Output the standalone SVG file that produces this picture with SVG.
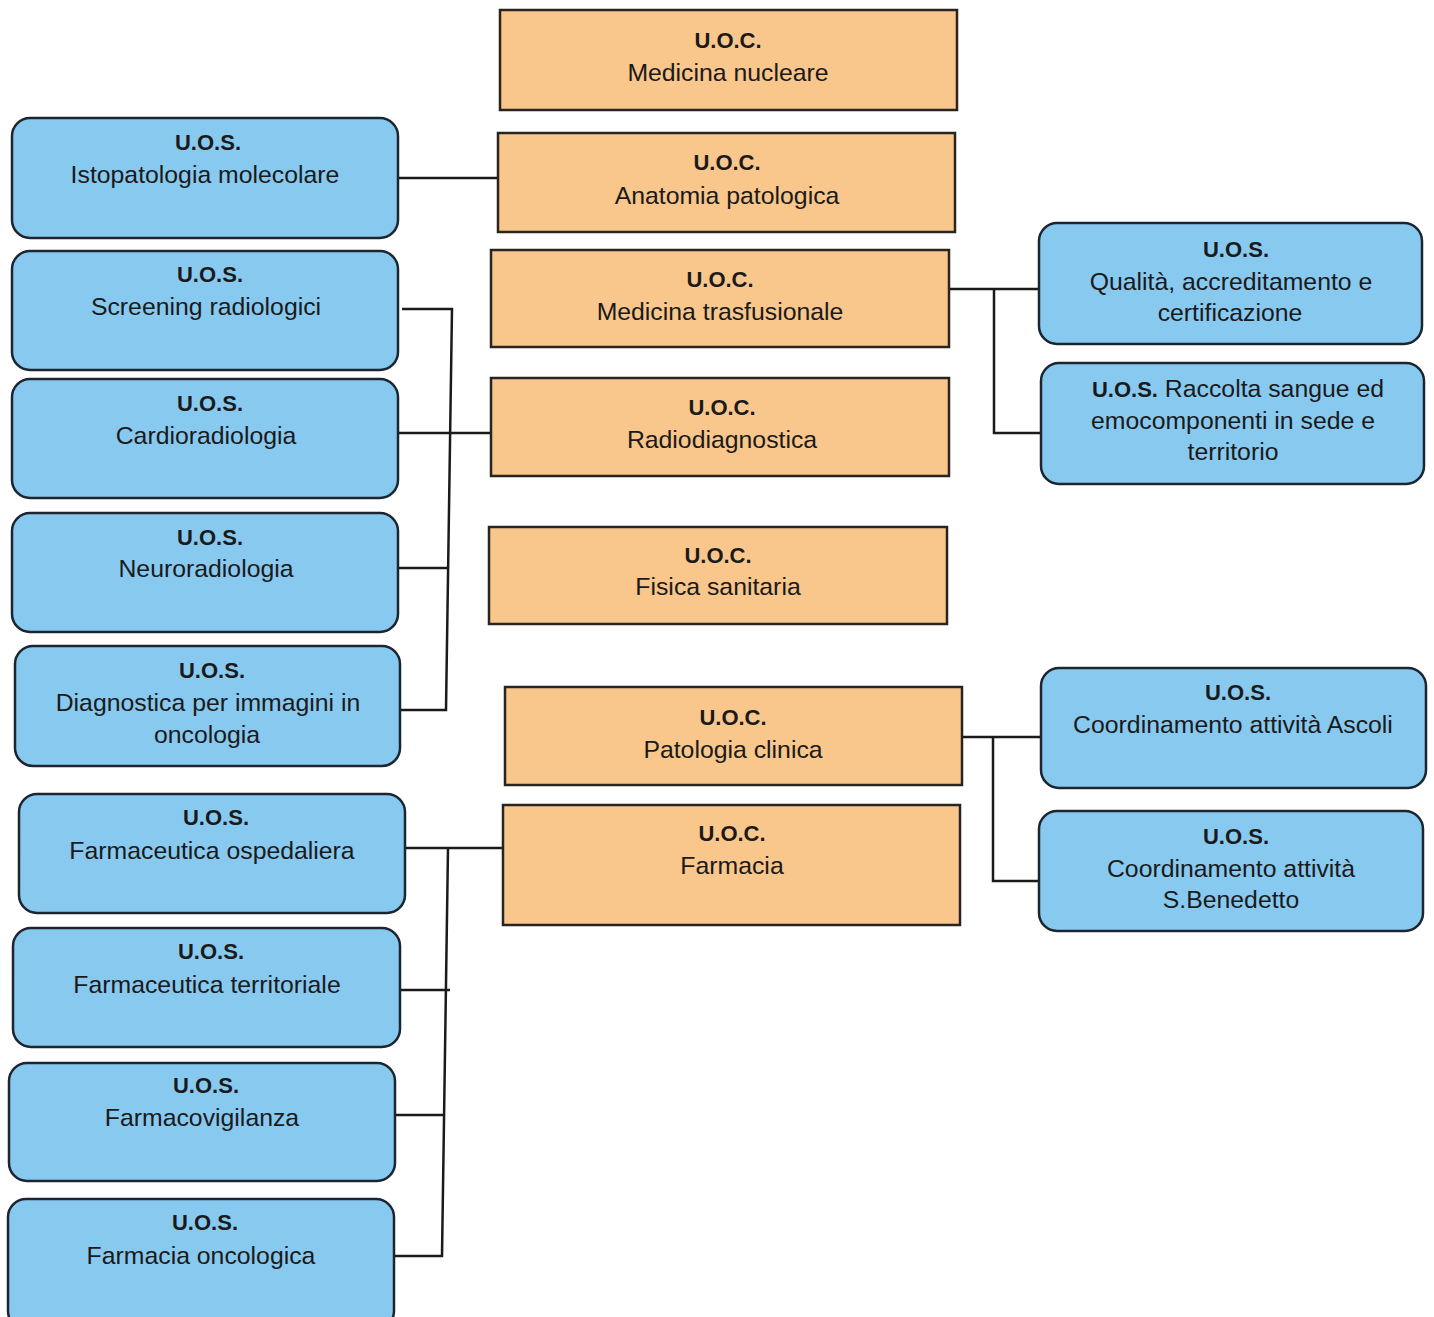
<svg xmlns="http://www.w3.org/2000/svg" width="1434" height="1317" viewBox="0 0 1434 1317">
<style>
.uos{fill:#88c9f0;stroke:#1c2630;stroke-width:2.5}
.uoc{fill:#f9c68b;stroke:#2a2420;stroke-width:2.5}
text{font-family:"Liberation Sans",Arial,sans-serif;font-size:24.8px;fill:#1a1a1a;text-anchor:middle}
.b{font-weight:bold;font-size:22px}
.conn{fill:none;stroke:#1a1a1a;stroke-width:2.5}
</style>
<rect width="1434" height="1317" fill="#ffffff"/>
<g id="connectors" class="conn">
<path d="M398 178H498"/>
<path d="M402 309H452L446 710H400"/>
<path d="M398 433H493"/>
<path d="M398 568H448"/>
<path d="M949 289H1043M994 289V433H1041"/>
<path d="M962 737H1041M993 737V881H1039"/>
<path d="M405 848H503"/>
<path d="M448 848L442 1256H394"/>
<path d="M400 990H450"/>
<path d="M395 1115H445"/>
</g>
<g id="uoc-medicina-nucleare"><rect class="uoc" x="500" y="10" width="457" height="100"/><text x="728" y="48" class="b">U.O.C.</text><text x="728" y="81">Medicina nucleare</text></g>
<g id="uoc-anatomia"><rect class="uoc" x="498" y="133" width="457" height="99"/><text x="727" y="170" class="b">U.O.C.</text><text x="727" y="204">Anatomia patologica</text></g>
<g id="uoc-trasfusionale"><rect class="uoc" x="491" y="250" width="458" height="97"/><text x="720" y="287" class="b">U.O.C.</text><text x="720" y="320">Medicina trasfusionale</text></g>
<g id="uoc-radiodiagnostica"><rect class="uoc" x="491" y="378" width="458" height="98"/><text x="722" y="415" class="b">U.O.C.</text><text x="722" y="448">Radiodiagnostica</text></g>
<g id="uoc-fisica"><rect class="uoc" x="489" y="527" width="458" height="97"/><text x="718" y="563" class="b">U.O.C.</text><text x="718" y="595">Fisica sanitaria</text></g>
<g id="uoc-patologia"><rect class="uoc" x="505" y="687" width="457" height="98"/><text x="733" y="725" class="b">U.O.C.</text><text x="733" y="758">Patologia clinica</text></g>
<g id="uoc-farmacia"><rect class="uoc" x="503" y="805" width="457" height="120"/><text x="732" y="841" class="b">U.O.C.</text><text x="732" y="874">Farmacia</text></g>

<g id="uos-istopatologia"><rect class="uos" x="12" y="118" width="386" height="120" rx="18"/><text x="208" y="150" class="b">U.O.S.</text><text x="205" y="183">Istopatologia molecolare</text></g>
<g id="uos-screening"><rect class="uos" x="12" y="251" width="386" height="119" rx="18"/><text x="210" y="282" class="b">U.O.S.</text><text x="206" y="315">Screening radiologici</text></g>
<g id="uos-cardioradiologia"><rect class="uos" x="12" y="379" width="386" height="119" rx="18"/><text x="210" y="411" class="b">U.O.S.</text><text x="206" y="444">Cardioradiologia</text></g>
<g id="uos-neuroradiologia"><rect class="uos" x="12" y="513" width="386" height="119" rx="18"/><text x="210" y="545" class="b">U.O.S.</text><text x="206" y="577">Neuroradiologia</text></g>
<g id="uos-diagnostica"><rect class="uos" x="15" y="646" width="385" height="120" rx="18"/><text x="212" y="678" class="b">U.O.S.</text><text x="208" y="711">Diagnostica per immagini in</text><text x="207" y="743">oncologia</text></g>
<g id="uos-farm-ospedaliera"><rect class="uos" x="19" y="794" width="386" height="119" rx="18"/><text x="216" y="825" class="b">U.O.S.</text><text x="212" y="859">Farmaceutica ospedaliera</text></g>
<g id="uos-farm-territoriale"><rect class="uos" x="13" y="928" width="387" height="119" rx="18"/><text x="211" y="959" class="b">U.O.S.</text><text x="207" y="993">Farmaceutica territoriale</text></g>
<g id="uos-farmacovigilanza"><rect class="uos" x="9" y="1063" width="386" height="118" rx="18"/><text x="206" y="1093" class="b">U.O.S.</text><text x="202" y="1126">Farmacovigilanza</text></g>
<g id="uos-farmacia-oncologica"><rect class="uos" x="8" y="1199" width="386" height="130" rx="18"/><text x="205" y="1230" class="b">U.O.S.</text><text x="201" y="1264">Farmacia oncologica</text></g>

<g id="uos-qualita"><rect class="uos" x="1039" y="223" width="383" height="121" rx="18"/><text x="1236" y="257" class="b">U.O.S.</text><text x="1231" y="290">Qualità, accreditamento e</text><text x="1230" y="321">certificazione</text></g>
<g id="uos-raccolta"><rect class="uos" x="1041" y="363" width="383" height="121" rx="18"/><text x="1238" y="397"><tspan class="b">U.O.S.</tspan>  Raccolta sangue ed</text><text x="1233" y="429">emocomponenti in sede e</text><text x="1233" y="460">territorio</text></g>
<g id="uos-ascoli"><rect class="uos" x="1041" y="668" width="385" height="120" rx="18"/><text x="1238" y="700" class="b">U.O.S.</text><text x="1233" y="733">Coordinamento attività Ascoli</text></g>
<g id="uos-sbenedetto"><rect class="uos" x="1039" y="811" width="384" height="120" rx="18"/><text x="1236" y="844" class="b">U.O.S.</text><text x="1231" y="877">Coordinamento attività</text><text x="1231" y="908">S.Benedetto</text></g>
</svg>
